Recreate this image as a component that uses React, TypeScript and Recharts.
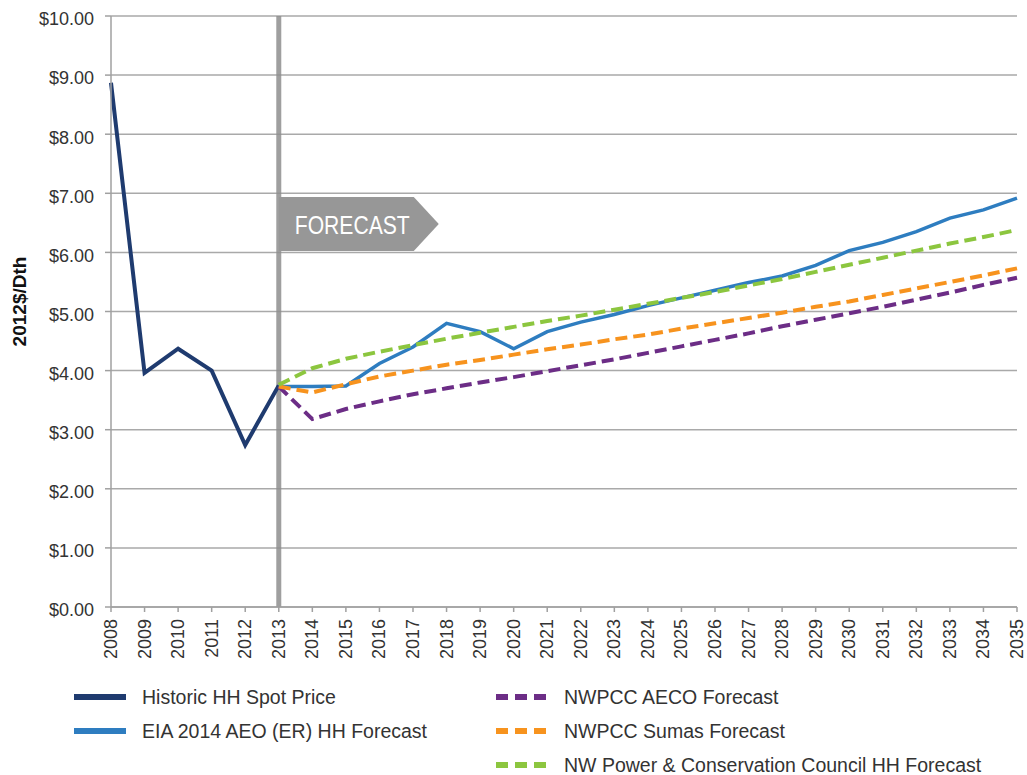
import React from 'react'
import {
  LineChart,
  Line,
  XAxis,
  YAxis,
  CartesianGrid,
  Legend,
  ReferenceLine
} from 'recharts'

const years = [
  2008, 2009, 2010, 2011, 2012, 2013, 2014, 2015, 2016, 2017, 2018, 2019, 2020, 2021,
  2022, 2023, 2024, 2025, 2026, 2027, 2028, 2029, 2030, 2031, 2032, 2033, 2034, 2035
]

const historic = [8.87, 3.96, 4.37, 4.0, 2.74, 3.75]

// forecasts start in 2013
const eia = [
  3.73, 3.73, 3.74, 4.12, 4.4, 4.8, 4.66, 4.37, 4.66, 4.82, 4.95, 5.1, 5.23, 5.36,
  5.49, 5.6, 5.78, 6.03, 6.17, 6.35, 6.58, 6.72, 6.92
]
const aeco = [
  3.73, 3.18, 3.35, 3.48, 3.6, 3.7, 3.8, 3.89, 3.99, 4.09, 4.19, 4.3, 4.41, 4.52,
  4.63, 4.75, 4.86, 4.97, 5.08, 5.2, 5.32, 5.45, 5.57
]
const sumas = [
  3.73, 3.63, 3.77, 3.9, 4.0, 4.1, 4.18, 4.27, 4.36, 4.44, 4.53, 4.61, 4.71, 4.8,
  4.89, 4.98, 5.08, 5.17, 5.28, 5.39, 5.5, 5.61, 5.73
]
const nwpcc = [
  3.76, 4.04, 4.2, 4.32, 4.43, 4.54, 4.64, 4.74, 4.84, 4.93, 5.03, 5.13, 5.23, 5.33,
  5.44, 5.55, 5.67, 5.79, 5.91, 6.03, 6.15, 6.26, 6.38
]

const yTicks = [0, 1, 2, 3, 4, 5, 6, 7, 8, 9, 10]
const forecastStart = 2013

const series = [
  { key: 'historic', name: 'Historic HH Spot Price', color: '#1f3b6f', dashed: false, width: 4 },
  { key: 'eia', name: 'EIA 2014 AEO (ER) HH Forecast', color: '#2e7dc0', dashed: false, width: 3.5 },
  { key: 'aeco', name: 'NWPCC AECO Forecast', color: '#6c2d86', dashed: true, width: 4 },
  { key: 'sumas', name: 'NWPCC Sumas Forecast', color: '#f7931e', dashed: true, width: 4 },
  { key: 'nwpcc', name: 'NW Power & Conservation Council HH Forecast', color: '#8cc63f', dashed: true, width: 4 }
]

const off = years.indexOf(forecastStart)
const data = years.map((year, i) => ({
  year,
  historic: i < historic.length ? historic[i] : null,
  eia: i >= off ? eia[i - off] : null,
  aeco: i >= off ? aeco[i - off] : null,
  sumas: i >= off ? sumas[i - off] : null,
  nwpcc: i >= off ? nwpcc[i - off] : null
}))

const font = "'Liberation Sans', Arial, sans-serif"
const textColor = '#333'

const YearTick = (props: any) => {
  const { x, y, payload } = props
  return (
    <text
      x={x}
      y={y}
      transform={`rotate(-90, ${x}, ${y})`}
      textAnchor="end"
      dominantBaseline="central"
      fontSize={18}
      fontFamily={font}
      fill={textColor}
    >
      {payload.value}
    </text>
  )
}

const ForecastTag = (props: any) => {
  const vb = props.viewBox || {}
  const x = vb.x
  const top = vb.y + 181
  const bottom = vb.y + 235
  const mid = (top + bottom) / 2
  return (
    <g>
      <polygon
        points={`${x},${top} ${x + 135},${top} ${x + 160},${mid} ${x + 135},${bottom} ${x},${bottom}`}
        fill="#979797"
      />
      <text
        x={x + 16}
        y={mid + 1}
        dominantBaseline="central"
        fill="#fff"
        fontSize={25}
        fontFamily={font}
        textLength={115}
        lengthAdjust="spacingAndGlyphs"
      >
        FORECAST
      </text>
    </g>
  )
}

const LegendBox = () => {
  const left = series.slice(0, 2)
  const right = series.slice(2)
  const row = (s: any, i: number, x: number) => (
    <div
      key={s.key}
      style={{ position: 'absolute', left: x, top: 8 + i * 34, display: 'flex', alignItems: 'center', whiteSpace: 'nowrap' }}
    >
      <svg width={52} height={8} style={{ marginRight: 16 }}>
        <line
          x1={0}
          y1={4}
          x2={52}
          y2={4}
          stroke={s.color}
          strokeWidth={6}
          strokeDasharray={s.dashed ? '12 7' : undefined}
        />
      </svg>
      <span style={{ fontSize: 19.5, fontFamily: font, color: textColor, lineHeight: '18px' }}>{s.name}</span>
    </div>
  )
  return (
    <div style={{ position: 'relative', width: 1027, height: 0 }}>
      {left.map((s, i) => row(s, i, 74))}
      {right.map((s, i) => row(s, i, 496))}
    </div>
  )
}

export default function App() {
  return (
    <div style={{ position: 'fixed', left: 0, top: 0, width: 1027, height: 775, overflow: 'hidden', background: '#fff' }}>
      <LineChart width={1027} height={775} data={data} margin={{ top: 16, right: 10, left: 0, bottom: 108 }}>
        <CartesianGrid vertical={false} stroke="#a9a9a9" strokeWidth={1.5} />
        <XAxis
          dataKey="year"
          interval={0}
          height={60}
          tick={<YearTick />}
          tickSize={5}
          tickMargin={7}
          stroke="#a0a0a0"
          strokeWidth={1.5}
        />
        <YAxis
          domain={[0, 10]}
          ticks={yTicks}
          width={111}
          tickFormatter={(v: number) => `$${v.toFixed(2)}`}
          tick={{ fontSize: 18, fontFamily: font, fill: textColor, dy: 3 }}
          tickSize={6}
          tickMargin={11}
          stroke="#a0a0a0"
          strokeWidth={1.5}
          label={{
            value: '2012$/Dth',
            angle: -90,
            position: 'insideLeft',
            offset: 19,
            dy: -10,
            style: { fontSize: 19, fontWeight: 'bold', fontFamily: font, fill: '#111', textAnchor: 'middle' }
          }}
        />
        <ReferenceLine
          x={forecastStart}
          stroke="#8e8e8e"
          strokeWidth={5}
          strokeOpacity={0.85}
          label={<ForecastTag />}
        />
        {series.map((s) => (
          <Line
            key={s.key}
            type="linear"
            dataKey={s.key}
            name={s.name}
            stroke={s.color}
            strokeWidth={s.width}
            strokeDasharray={s.dashed ? '12 6' : undefined}
            dot={false}
            activeDot={false}
            connectNulls={false}
            isAnimationActive={false}
          />
        ))}
        <Legend
          content={<LegendBox />}
          wrapperStyle={{ position: 'absolute', left: 0, top: 680, width: 1027, height: 0, overflow: 'visible' }}
        />
      </LineChart>
    </div>
  )
}
